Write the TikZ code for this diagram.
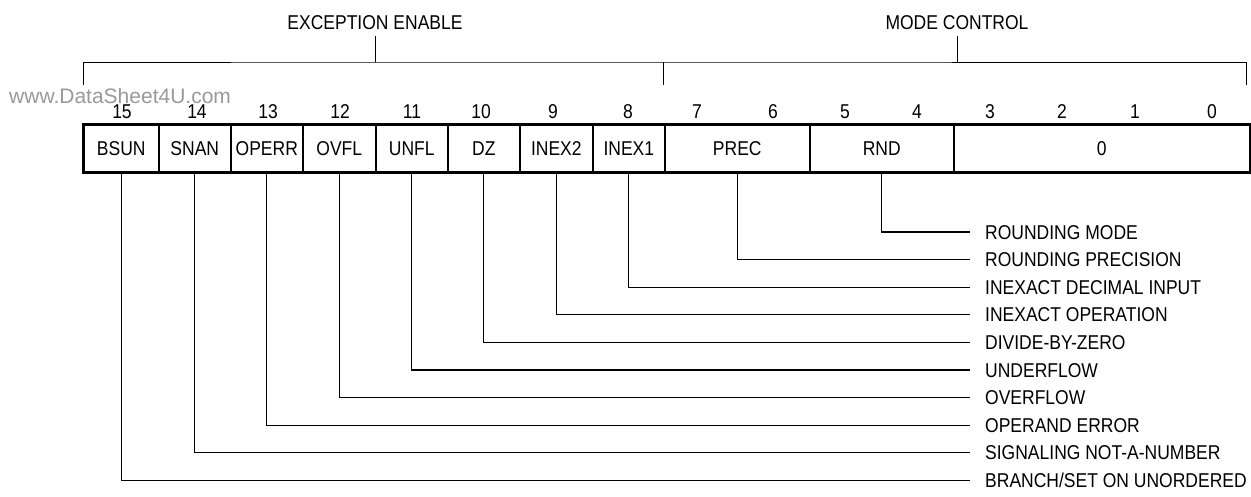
\documentclass[tikz,border=0pt]{standalone}
\usepackage{fontspec}
\setmainfont[FakeStretch=0.875]{Liberation Sans}
\newfontfamily\wmfont{Liberation Sans}
\begin{document}
\begin{tikzpicture}[x=1pt,y=-1pt,
  txt/.style={inner sep=0pt, font=\fontsize{20}{23}\selectfont, text height=14.3pt, text depth=0pt},
  cell/.style={txt, draw, line width=1.6pt, minimum height=47pt, anchor=west},
  bit/.style={txt},
  lab/.style={txt, anchor=west},
  leader/.style={line width=1.1pt},
  brace/.style={line width=1pt}]
\useasboundingbox (0,0) rectangle (1251,496);
% watermark
\node[inner sep=0pt, anchor=west, text=black!40, font=\wmfont\fontsize{21}{24}\selectfont] (wm) at (9,96) {www.DataSheet4U.com};
% register cells
\node[cell, minimum width=75pt] (bsun)  at (83,148.5)  {BSUN};
\node[cell, minimum width=72pt] (snan)  at (158,148.5) {SNAN};
\node[cell, minimum width=72pt] (operr) at (230,148.5) {OPERR};
\node[cell, minimum width=73pt] (ovfl)  at (302,148.5) {OVFL};
\node[cell, minimum width=72pt] (unfl)  at (375,148.5) {UNFL};
\node[cell, minimum width=72pt] (dz)    at (447,148.5) {DZ};
\node[cell, minimum width=73pt] (inexb) at (519,148.5) {INEX2};
\node[cell, minimum width=72pt] (inexa) at (592,148.5) {INEX1};
\node[cell, minimum width=145pt] (prec) at (664,148.5) {PREC};
\node[cell, minimum width=144pt] (rnd)  at (809,148.5) {RND};
\node[cell, minimum width=296pt] (zero) at (953,148.5) {0};
\draw[line width=2.6pt] (bsun.north west) rectangle (zero.south east);
% bit numbers
\foreach \b/\x in {15/122,14/197,13/268,12/340,11/412,10/481,9/553,8/628,7/697,6/773,5/845,4/917,3/990,2/1062,1/1135,0/1212}
  \node[bit] (b\b) at (\x,111) {\b};
% brackets
\node[txt] (exc) at (375,22) {EXCEPTION ENABLE};
\node[txt] (mode) at (957,22) {MODE CONTROL};
\coordinate (bl) at (83,85);
\coordinate (bm) at (663,85);
\coordinate (br) at (1246,85);
\draw[brace] (bl) |- (375,62) -- (bm |- 0,62) -- (br |- 0,62) -- (br);
\draw[brace] (bm) -- (bm |- 0,62);
\draw[brace] (exc.south |- 0,36) -- (exc.south |- 0,62);
\draw[brace] (mode.south |- 0,36) -- (mode.south |- 0,62);
% leader labels
\node[lab] (lrnd)   at (985,232.0) {ROUNDING MODE};
\node[lab] (lprec)  at (985,259.6) {ROUNDING PRECISION};
\node[lab] (linexa) at (985,287.2) {INEXACT DECIMAL INPUT};
\node[lab] (linexb) at (985,314.8) {INEXACT OPERATION};
\node[lab] (ldz)    at (985,342.4) {DIVIDE-BY-ZERO};
\node[lab] (lunfl)  at (985,370.0) {UNDERFLOW};
\node[lab] (lovfl)  at (985,397.6) {OVERFLOW};
\node[lab] (loperr) at (985,425.2) {OPERAND ERROR};
\node[lab] (lsnan)  at (985,452.8) {SIGNALING NOT-A-NUMBER};
\node[lab] (lbsun)  at (985,480.4) {BRANCH/SET ON UNORDERED};
% leaders
\foreach \c/\l in {rnd/lrnd,prec/lprec,inexa/linexa,inexb/linexb,dz/ldz,unfl/lunfl,ovfl/lovfl,operr/loperr,snan/lsnan,bsun/lbsun}
  \draw[leader] (\c.south) |- ([xshift=-15pt]\l.west);
\end{tikzpicture}
\end{document}
